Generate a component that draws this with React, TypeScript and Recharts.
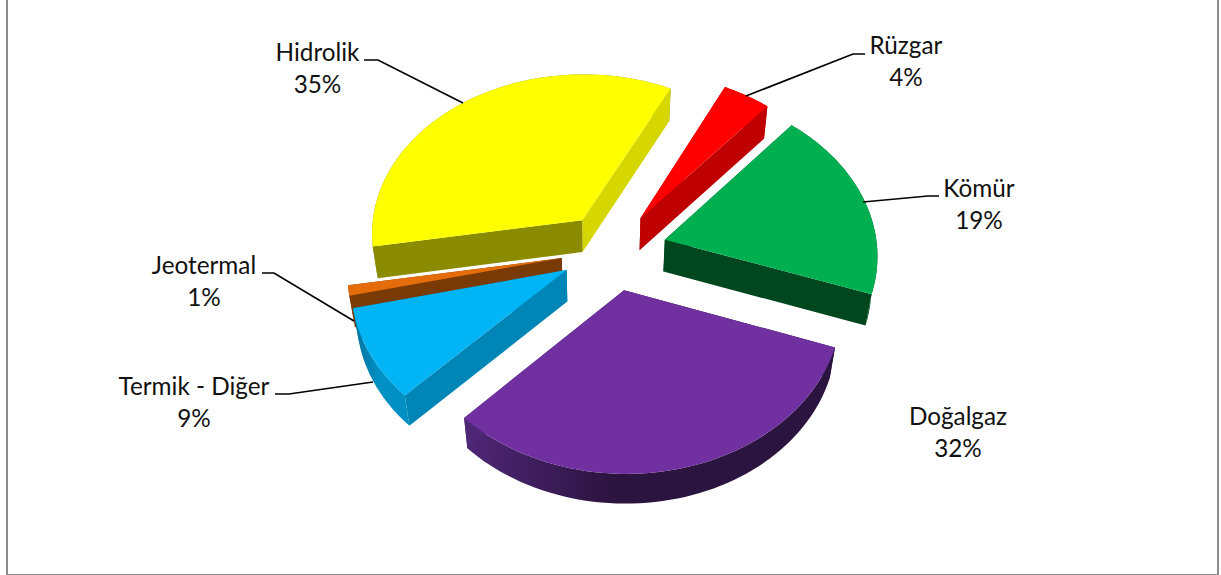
import { PieChart, Pie } from 'recharts';

// Kurulu güç dağılımı, saat yönünün tersine Hidrolik'ten başlayarak
const sources = ['Hidrolik', 'Jeotermal', 'Termik - Diğer', 'Doğalgaz', 'Kömür', 'Rüzgar'];
const shares = [35, 1, 9, 32, 19, 4];

const topColors = ['#FFFF00', '#E46C0A', '#00B4F5', '#7030A0', '#00B050', '#FF0000'];
const startWallColors = ['#D6D600', '#7A3A05', '#0077A3', '#4E2676', '#00471F', '#BF0000'];
const endWallColors = ['#8B8B00', '#7A3A05', '#0086B6', '#2C1440', '#00471F', '#BF0000'];
const arcLightColors = ['#8B8B00', '#A85008', '#0077A3', '#4E2676', '#2C5A2A', '#BF0000'];
const arcDarkColors = ['#8B8B00', '#A85008', '#0090C4', '#2C1440', '#00471F', '#BF0000'];

// Dilimlerin dışa çekilme miktarı (pasta düzleminde x, y)
const explodeX = [-18, -38, -33, 23.5, 65, 41];
const explodeY = [33, -17, -32.5, -58, 7, 35.5];

// Etiket yerleşimi: orta x, ilk satır y ve kılavuz çizgi noktaları
const labelX = [317.5, 204, 194, 958, 979, 906];
const labelY = [53, 265.5, 386.5, 417, 189, 46];
const leaderLines = [
  '364,60 378,60 463,103',
  '262,273 274,273 354,321',
  '275,394 289,394 373,382',
  '',
  '939,196 928,196 863,202',
  '865,54 853,54 746,96',
];

const pieData = sources.map((name, i) => ({ name, value: shares[i], fill: topColors[i] }));

const WIDTH = 1221;
const HEIGHT = 575;
const CX = 600;
const CY = 245;
const RADIUS = 212;
const THICKNESS = 50;
const TILT = 0.761;
const LIFT = Math.sqrt(1 - TILT * TILT);
const CAMERA = 1712;
const RAD = Math.PI / 180;

// 3B düzlem noktasını perspektifle ekrana izdüşürür
function project(x: number, y: number, z: number) {
  const v = y * TILT + z * LIFT;
  const w = y * LIFT - z * TILT;
  const s = CAMERA / (CAMERA + w);
  return [CX + x * s, CY - v * s];
}

const toPath = (pts: number[][]) =>
  'M' + pts.map((p) => `${p[0].toFixed(2)},${p[1].toFixed(2)}`).join('L') + 'Z';

function Slice3D(props: any) {
  const { index, startAngle, endAngle, outerRadius } = props;
  const ox = explodeX[index];
  const oy = explodeY[index];
  const r = outerRadius ?? RADIUS;

  const at = (a: number, rr: number, z: number) =>
    project(ox + rr * Math.cos(a * RAD), oy + rr * Math.sin(a * RAD), z);

  const steps = 60;
  const top: number[][] = [];
  const bottom: number[][] = [];
  for (let k = 0; k <= steps; k++) {
    const a = startAngle + ((endAngle - startAngle) * k) / steps;
    top.push(at(a, r, 0));
    bottom.push(at(a, r, -THICKNESS));
  }
  const apexTop = at(0, 0, 0);
  const apexBottom = at(0, 0, -THICKNESS);
  const gradId = `arc-${index}`;
  const xs = bottom.map((p) => p[0]);

  return (
    <g>
      <defs>
        <linearGradient
          id={gradId}
          gradientUnits="userSpaceOnUse"
          x1={Math.min(...xs)}
          y1={0}
          x2={Math.max(...xs)}
          y2={0}
        >
          <stop offset="0" stopColor={arcLightColors[index]} />
          <stop offset="0.4" stopColor={arcDarkColors[index]} />
          <stop offset="1" stopColor={arcDarkColors[index]} />
        </linearGradient>
      </defs>
      {/* önce dış yüzey, sonra kesit duvarları, en üstte dilim */}
      <path d={toPath([...top, ...[...bottom].reverse()])} fill={`url(#${gradId})`} />
      <path d={toPath([apexTop, top[0], bottom[0], apexBottom])} fill={startWallColors[index]} />
      <path
        d={toPath([apexTop, top[steps], bottom[steps], apexBottom])}
        fill={endWallColors[index]}
      />
      <path d={toPath([apexTop, ...top])} fill={topColors[index]} />
    </g>
  );
}

function SliceLabel(props: any) {
  const { index } = props;
  const x = labelX[index];
  const y = labelY[index];
  return (
    <g>
      {leaderLines[index] && (
        <polyline points={leaderLines[index]} fill="none" stroke="#000" strokeWidth={1.7} />
      )}
      <text
        x={x}
        textAnchor="middle"
        fontFamily="Lato, sans-serif"
        fontSize={24.3}
        fill="#111"
      >
        <tspan x={x} y={y + 8}>{sources[index]}</tspan>
        <tspan x={x} y={y + 40}>{`${shares[index]}%`}</tspan>
      </text>
    </g>
  );
}

export default function App() {
  return (
    <div style={{ position: 'absolute', left: 0, top: 0, width: WIDTH, height: HEIGHT, background: '#fff' }}>
      <div
        style={{
          position: 'absolute',
          left: 6,
          top: -4,
          width: 1209,
          height: 576,
          border: '2px solid #8c8c8c',
        }}
      />
      <div style={{ position: 'absolute', left: 0, top: 0 }}>
        <PieChart width={WIDTH} height={HEIGHT} margin={{ top: 0, right: 0, bottom: 0, left: 0 }}>
          <Pie
            data={pieData}
            dataKey="value"
            nameKey="name"
            cx={CX}
            cy={CY}
            innerRadius={0}
            outerRadius={RADIUS}
            startAngle={63.5}
            endAngle={423.5}
            stroke="none"
            shape={Slice3D}
            label={SliceLabel}
            labelLine={false}
            isAnimationActive={false}
          />
        </PieChart>
      </div>
    </div>
  );
}
